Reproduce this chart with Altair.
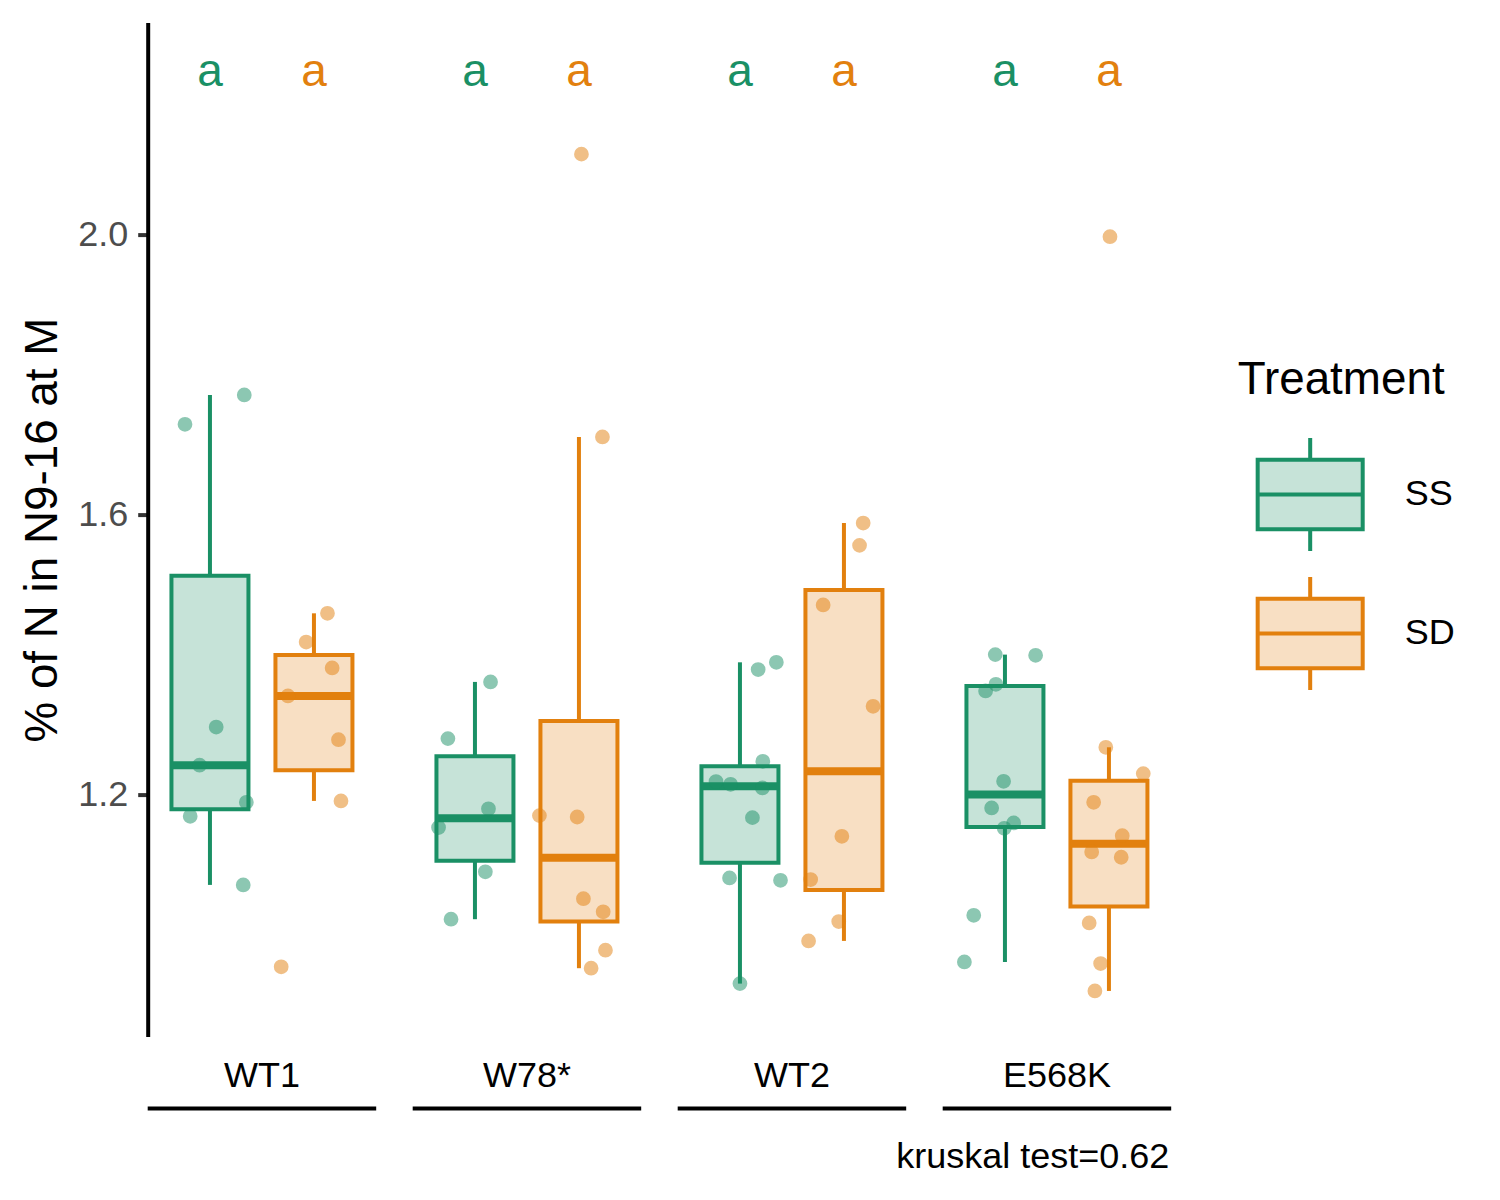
import json
import altair as alt
import pandas as pd

GENOTYPES = ["WT1", "W78*", "WT2", "E568K"]
TREATMENTS = ["SS", "SD"]
Y_TITLE = "% of N in N9-16 at M"
Y_TICKS = [1.2, 1.6, 2.0]
CAPTION = "kruskal test=0.62"
LETTER_Y = 2.233
LETTERS_SS = ["a", "a", "a", "a"]
LETTERS_SD = ["a", "a", "a", "a"]

# % of N values
WT1_SS = [1.771, 1.729, 1.2965, 1.242, 1.189, 1.169, 1.071]
WT1_SD = [1.459, 1.418, 1.381, 1.341, 1.2785, 1.191, 0.954]
W78_SS = [1.361, 1.280, 1.1797, 1.153, 1.0897, 1.022]
W78_SD = [2.115, 1.711, 1.170, 1.168, 1.0513, 1.0326, 0.9777, 0.952]
WT2_SS = [1.389, 1.3786, 1.2476, 1.2186, 1.2147, 1.2095, 1.1671, 1.081, 1.0776, 0.930]
WT2_SD = [1.588, 1.5561, 1.471, 1.3262, 1.1404, 1.0786, 1.0186, 0.991]
E568K_SS = [1.400, 1.399, 1.3576, 1.3481, 1.219, 1.181, 1.1595, 1.1519, 1.0276, 0.961]
E568K_SD = [1.997, 1.2676, 1.230, 1.189, 1.1414, 1.1181, 1.1105, 1.0167, 0.9586, 0.9195]

# horizontal jitter of each point (fraction of the dodge width)
WT1_SS_JIT = [0.33, -0.24, 0.06, -0.10, 0.35, -0.19, 0.32]
WT1_SD_JIT = [0.13, -0.075, 0.175, -0.25, 0.236, 0.26, -0.315]
W78_SS_JIT = [0.15, -0.26, 0.13, -0.35, 0.10, -0.23]
W78_SD_JIT = [0.024, 0.226, -0.38, -0.017, 0.043, 0.233, 0.255, 0.117]
WT2_SS_JIT = [0.35, 0.175, 0.22, -0.23, -0.09, 0.216, 0.12, -0.10, 0.39, 0.0]
WT2_SD_JIT = [0.185, 0.15, -0.20, 0.28, -0.02, -0.32, -0.05, -0.34]
E568K_SS_JIT = [-0.093, 0.295, -0.087, -0.186, -0.013, -0.128, 0.084, -0.007, -0.30, -0.39]
E568K_SD_JIT = [0.01, -0.03, 0.33, -0.147, 0.128, -0.166, 0.118, -0.19, -0.08, -0.135]

SERIES = {
    ("WT1", "SS"): (WT1_SS, WT1_SS_JIT),
    ("WT1", "SD"): (WT1_SD, WT1_SD_JIT),
    ("W78*", "SS"): (W78_SS, W78_SS_JIT),
    ("W78*", "SD"): (W78_SD, W78_SD_JIT),
    ("WT2", "SS"): (WT2_SS, WT2_SS_JIT),
    ("WT2", "SD"): (WT2_SD, WT2_SD_JIT),
    ("E568K", "SS"): (E568K_SS, E568K_SS_JIT),
    ("E568K", "SD"): (E568K_SD, E568K_SD_JIT),
}
LETTERS = {"SS": LETTERS_SS, "SD": LETTERS_SD}

rows = []
for (g, t), (vals, jits) in SERIES.items():
    letter = LETTERS[t][GENOTYPES.index(g)]
    for v, j in zip(vals, jits):
        rows.append({"Genotype": g, "Treatment": t, "value": v, "jit": j, "letter": letter})
df = pd.DataFrame(rows)

DARK = ["#1A9065", "#E2800E"]
LIGHT = ["#C6E3D8", "#F8DFC3"]
FONT = "Liberation Sans"
W, H = 228.5, 1014
GROUP = ["Genotype", "Treatment"]

BOX_PATH = ("M-0.747,-0.493H0.747V0.493H-0.747Z "
            "M-0.747,0H0.747 M0,-0.493V-0.804 M0,0.493V0.804")

x_enc = alt.X("Treatment:N", sort=TREATMENTS,
              scale=alt.Scale(domain=TREATMENTS, paddingInner=0, paddingOuter=0.0986),
              axis=None)
y_scale = alt.Scale(domain=[0.8543, 2.3029], nice=False, zero=False)
y_axis = alt.Axis(values=Y_TICKS, format=".1f", title=Y_TITLE, grid=False,
                  domainColor="black", domainWidth=4, tickColor="#333333",
                  tickWidth=4, tickSize=10, labelFont=FONT, labelFontSize=36,
                  labelColor="#4D4D4D", labelPadding=10, titleFont=FONT,
                  titleFontSize=45.8, titleFontWeight="normal", titleColor="black",
                  titlePadding=11.5)
# colour of lines, points and letters (no legend of its own)
color_dark = alt.Color("Treatment:N",
                       scale=alt.Scale(domain=alt.ExprRef(expr=json.dumps(TREATMENTS)),
                                       range=DARK),
                       legend=None)
legend = alt.Legend(orient="none", legendX=1090, legendY=335, title="Treatment",
                    titleFont=FONT, titleFontSize=45.8, titleFontWeight="normal",
                    titleColor="black", titlePadding=18.6, titleLimit=500,
                    labelFont=FONT, labelFontSize=36, labelColor="black",
                    labelOffset=22, labelLimit=300,
                    symbolType=BOX_PATH, symbolSize=19768, symbolStrokeWidth=4,
                    rowPadding=1, padding=0)
fill_enc = alt.Fill("Treatment:N", scale=alt.Scale(domain=TREATMENTS, range=LIGHT),
                    legend=legend)
stroke_enc = alt.Stroke("Treatment:N", scale=alt.Scale(domain=TREATMENTS, range=DARK),
                        legend=legend)

base = alt.Chart()

whisk = (base
         .transform_joinaggregate(jq1="q1(value)", jq3="q3(value)", groupby=GROUP)
         .transform_calculate(lo="datum.jq1 - 1.5*(datum.jq3 - datum.jq1)",
                              hi="datum.jq3 + 1.5*(datum.jq3 - datum.jq1)")
         .transform_filter("datum.value >= datum.lo && datum.value <= datum.hi")
         .transform_aggregate(lower="min(value)", upper="max(value)",
                              wq1="min(jq1)", wq3="min(jq3)", groupby=GROUP))
lower_rule = whisk.mark_rule(strokeWidth=4).encode(
    x=x_enc, y=alt.Y("lower:Q", scale=y_scale, axis=y_axis), y2="wq1:Q", color=color_dark)
upper_rule = whisk.mark_rule(strokeWidth=4).encode(
    x=x_enc, y=alt.Y("wq3:Q", scale=y_scale, axis=y_axis), y2="upper:Q", color=color_dark)

box = (base
       .transform_aggregate(bq1="q1(value)", bq3="q3(value)", groupby=GROUP)
       .mark_bar(size=77, strokeWidth=4, opacity=1)
       .encode(x=x_enc, y=alt.Y("bq1:Q", scale=y_scale, axis=y_axis), y2="bq3:Q",
               fill=fill_enc, stroke=stroke_enc))

median = (base
          .transform_aggregate(med="median(value)", groupby=GROUP)
          .mark_tick(thickness=8, size=77, opacity=1)
          .encode(x=x_enc, y=alt.Y("med:Q", scale=y_scale, axis=y_axis), color=color_dark))

points = base.mark_circle(size=218, opacity=0.5).encode(
    x=x_enc,
    xOffset=alt.XOffset("jit:Q", scale=alt.Scale(domain=[-0.5, 0.5])),
    y=alt.Y("value:Q", scale=y_scale, axis=y_axis),
    color=color_dark)

letters = (base
           .transform_aggregate(n="count()", groupby=GROUP + ["letter"])
           .mark_text(font=FONT, fontSize=46, baseline="middle", align="center")
           .encode(x=x_enc, y=alt.datum(LETTER_Y), text="letter:N", color=color_dark))

underline = (base
             .transform_aggregate(n="count()", groupby=["Genotype"])
             .mark_rule(color="black", strokeWidth=4)
             .encode(x=alt.value(0), x2=alt.value(W), y=alt.value(1086)))

caption = (base
           .transform_filter(alt.datum.Genotype == GENOTYPES[-1])
           .transform_aggregate(n="count()", groupby=["Genotype"])
           .mark_text(text=CAPTION, font=FONT, fontSize=36, align="right",
                      baseline="alphabetic", color="black")
           .encode(x=alt.value(W - 2), y=alt.value(1145)))

layered = alt.layer(lower_rule, upper_rule, box, median, points, letters, underline,
                    caption, data=df).properties(width=W, height=H)

chart = (layered
         .facet(column=alt.Column("Genotype:N", sort=GENOTYPES, title=None,
                                  header=alt.Header(labelOrient="bottom", labelFont=FONT,
                                                    labelFontSize=36, labelColor="black",
                                                    labelPadding=22)),
                spacing=36, bounds="flush")
         .properties(padding={"left": 10.7, "top": 14.6, "right": 5, "bottom": 5})
         .configure(font=FONT)
         .configure_view(stroke="transparent", strokeWidth=0))

chart.save("out.html", embed_options={"renderer": "svg", "actions": False})
